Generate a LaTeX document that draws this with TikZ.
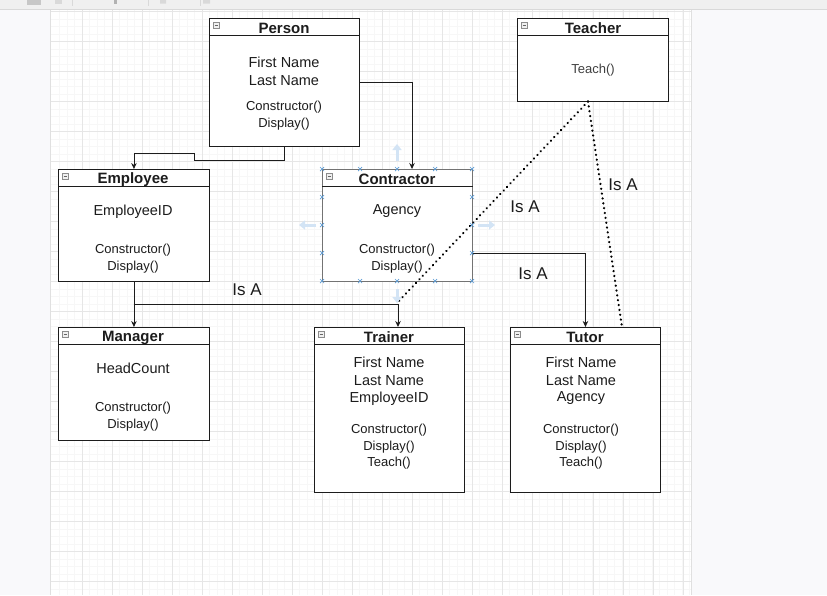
\documentclass[tikz,border=0pt]{standalone}
\usepackage{fontspec}
\setmainfont{Liberation Sans}
\usetikzlibrary{calc,arrows.meta}

\definecolor{ink}{HTML}{1C1C1C}
\definecolor{gridminor}{HTML}{F7F7F7}
\definecolor{gridmajor}{HTML}{E6E6E6}
\definecolor{outside}{HTML}{F9F9FB}
\definecolor{barbg}{HTML}{F0F0F0}
\definecolor{selblue}{HTML}{5B9BD5}
\definecolor{hintblue}{HTML}{D3E4F5}

\tikzset{
  cls/.style={draw=ink, line width=0.9pt, fill=white, rectangle, inner sep=0pt},
  selcls/.style={cls, draw=black!55},
  headline/.style={draw=ink, line width=0.9pt},
  title/.style={font=\bfseries\fontsize{15}{15}\selectfont, text=ink, inner sep=0pt},
  attr/.style={font=\fontsize{14.5}{14.5}\selectfont, text=ink, inner sep=0pt},
  meth/.style={font=\fontsize{13}{13}\selectfont, text=ink, inner sep=0pt},
  isa/.style={font=\fontsize{17}{17}\selectfont, text=ink, inner sep=0pt},
  conn/.style={draw=ink, line width=0.9pt},
  tip/.style={-{Stealth[length=6pt,width=5.5pt]}},
  realize/.style={draw=black, line width=2.4pt, line cap=round, dash pattern=on 0.1pt off 4.8pt},
  foldbox/.style={draw=black!45, fill=black!6, line width=0.5pt},
  handle/.style={draw=selblue, line width=0.7pt},
  hint/.style={draw=hintblue, line width=3pt, -{Triangle[length=6pt,width=9pt]}},
}

% collapse marker in the header corner of a class box
\newcommand{\foldmark}[1]{%
  \draw[foldbox] ($(#1.north west)+(4,4)$) rectangle ++(6,6);
  \draw[black!60, line width=0.6pt] ($(#1.north west)+(5.5,7)$) -- ++(3,0);
}
% header separator of a class box
\newcommand{\classhead}[1]{%
  \draw[headline] ($(#1.north west)+(0,17.5)$) -- ($(#1.north east)+(0,17.5)$);
}
% selection handle
\newcommand{\selx}[1]{%
  \draw[handle] ($#1+(-2,-2)$) -- ($#1+(2,2)$) ($#1+(-2,2)$) -- ($#1+(2,-2)$);
}

\begin{document}
\begin{tikzpicture}[x=1pt,y=-1pt]
\useasboundingbox (0,0) rectangle (827,595);

% ---- editor surroundings ----
\fill[outside] (0,0) rectangle (827,595);
\fill[white] (50,9.5) rectangle (691,595);
\foreach \x in {59.5,67,...,691} \draw[gridminor, line width=0.5pt] (\x,9.5) -- (\x,595);
\foreach \y in {11.5,19,...,595} \draw[gridminor, line width=0.5pt] (50,\y) -- (691,\y);
\foreach \x in {82,112.05,...,691} \draw[gridmajor, line width=0.7pt] (\x,9.5) -- (\x,595);
\foreach \y in {11.5,41.5,...,595} \draw[gridmajor, line width=0.7pt] (50,\y) -- (691,\y);
\draw[black!12, line width=0.8pt] (50,9.5) -- (50,595) (691,9.5) -- (691,595);

% toolbar strip
\fill[barbg] (0,0) rectangle (827,9.5);
\draw[black!15, line width=0.8pt] (0,9.5) -- (827,9.5);
\fill[black!22] (27,0) rectangle (41,4.5);
\fill[black!15] (55,0) rectangle (62,3.5);
\draw[black!15] (72,0) -- (72,6) (148,0) -- (148,6) (200,0) -- (200,6);
\fill[black!30] (114,0) rectangle (117,4);
\fill[black!15] (160,0) rectangle (166,3.5) (203,0) rectangle (210,3.5);

% ---- classes ----
\node[cls, anchor=north west, minimum width=150pt, minimum height=128pt] (person) at (209,18) {};
\node[cls, anchor=north west, minimum width=151pt, minimum height=83pt] (teacher) at (517,18) {};
\node[cls, anchor=north west, minimum width=151pt, minimum height=112pt] (employee) at (58,169) {};
\node[selcls, anchor=north west, minimum width=150pt, minimum height=112pt] (contractor) at (322,169) {};
\node[cls, anchor=north west, minimum width=151pt, minimum height=113pt] (manager) at (58,327) {};
\node[cls, anchor=north west, minimum width=150pt, minimum height=165pt] (trainer) at (314,327) {};
\node[cls, anchor=north west, minimum width=150pt, minimum height=165pt] (tutor) at (510,327) {};

\foreach \c in {person,teacher,employee,contractor,manager,trainer,tutor} {
  \classhead{\c}
  \foldmark{\c}
}

% titles
\node[title] (tperson) at (284,28.5) {Person};
\node[title] (tteacher) at (593,28.5) {Teacher};
\node[title] (temployee) at (133,179.5) {Employee};
\node[title] (tcontractor) at (397,179.5) {Contractor};
\node[title] (tmanager) at (133,337.5) {Manager};
\node[title] (ttrainer) at (389,337.5) {Trainer};
\node[title] (ttutor) at (585,337.5) {Tutor};

% members
\node[attr] (p1) at (284,62.5) {First Name};
\node[attr] (p2) at (284,80.5) {Last Name};
\node[meth] (p3) at (284,107) {Constructor()};
\node[meth] (p4) at (284,124) {Display()};

\node[meth, text=black!75] (te1) at (593,70.5) {Teach()};

\node[attr] (e1) at (133,211.5) {EmployeeID};
\node[meth] (e2) at (133,250.5) {Constructor()};
\node[meth] (e3) at (133,267.5) {Display()};

\node[attr] (c1) at (397,211.5) {Agency};
\node[meth] (c2) at (397,250.5) {Constructor()};
\node[meth] (c3) at (397,267.5) {Display()};

\node[attr] (m1) at (133,368.5) {HeadCount};
\node[meth] (m2) at (133,408.5) {Constructor()};
\node[meth] (m3) at (133,425.5) {Display()};

\node[attr] (r1) at (389,362.5) {First Name};
\node[attr] (r2) at (389,380.5) {Last Name};
\node[attr] (r3) at (389,398.5) {EmployeeID};
\node[meth] (r4) at (389,430.5) {Constructor()};
\node[meth] (r5) at (389,447.5) {Display()};
\node[meth] (r6) at (389,463.5) {Teach()};

\node[attr] (u1) at (581,362.5) {First Name};
\node[attr] (u2) at (581,380.5) {Last Name};
\node[attr] (u3) at (581,398.5) {Agency};
\node[meth] (u4) at (581,430.5) {Constructor()};
\node[meth] (u5) at (581,447.5) {Display()};
\node[meth] (u6) at (581,463.5) {Teach()};

% ---- connector anchor points ----
\coordinate (pbend1) at (194,160);
\coordinate (pbend2) at (194,153);
\coordinate (ctop) at (412,169);
\coordinate (ebranch) at (133.5,304);
\coordinate (rtop) at (398,327);
\coordinate (cside) at (472,253);
\coordinate (tbase) at (588,101.5);
\coordinate (rjoin) at (397,303);
\coordinate (utop) at (622,327);

% ---- inheritance connectors ----
\draw[conn, tip] (person.south) |- (pbend1) -- (pbend2) -| (employee.north);
\draw[conn, tip] (person.east) -| (ctop);
\draw[conn, tip] (employee.south) -- (manager.north);
\draw[conn, tip] (ebranch) -| (rtop);
\draw[conn, tip] (cside) -| (tutor.north);

% ---- interface realisation ----
\draw[realize] (tbase) -- (rjoin);
\draw[realize] (tbase) -- (utop);

% labels
\node[isa] (l1) at (247,289.5) {Is A};
\node[isa] (l2) at (533,273.5) {Is A};
\node[isa] (l3) at (525,206.5) {Is A};
\node[isa] (l4) at (623,184.5) {Is A};

% ---- selection state of Contractor ----
\foreach \x in {322,360,397,435,472} {
  \selx{(\x,169)}
  \selx{(\x,281)}
}
\foreach \y in {197,225,253} {
  \selx{(322,\y)}
  \selx{(472,\y)}
}
\draw[hint] (397,161) -- (397,144);
\draw[hint] (397,289) -- (397,303);
\draw[hint] (316,225) -- (299,225);
\draw[hint] (478,225) -- (495,225);
\end{tikzpicture}
\end{document}
